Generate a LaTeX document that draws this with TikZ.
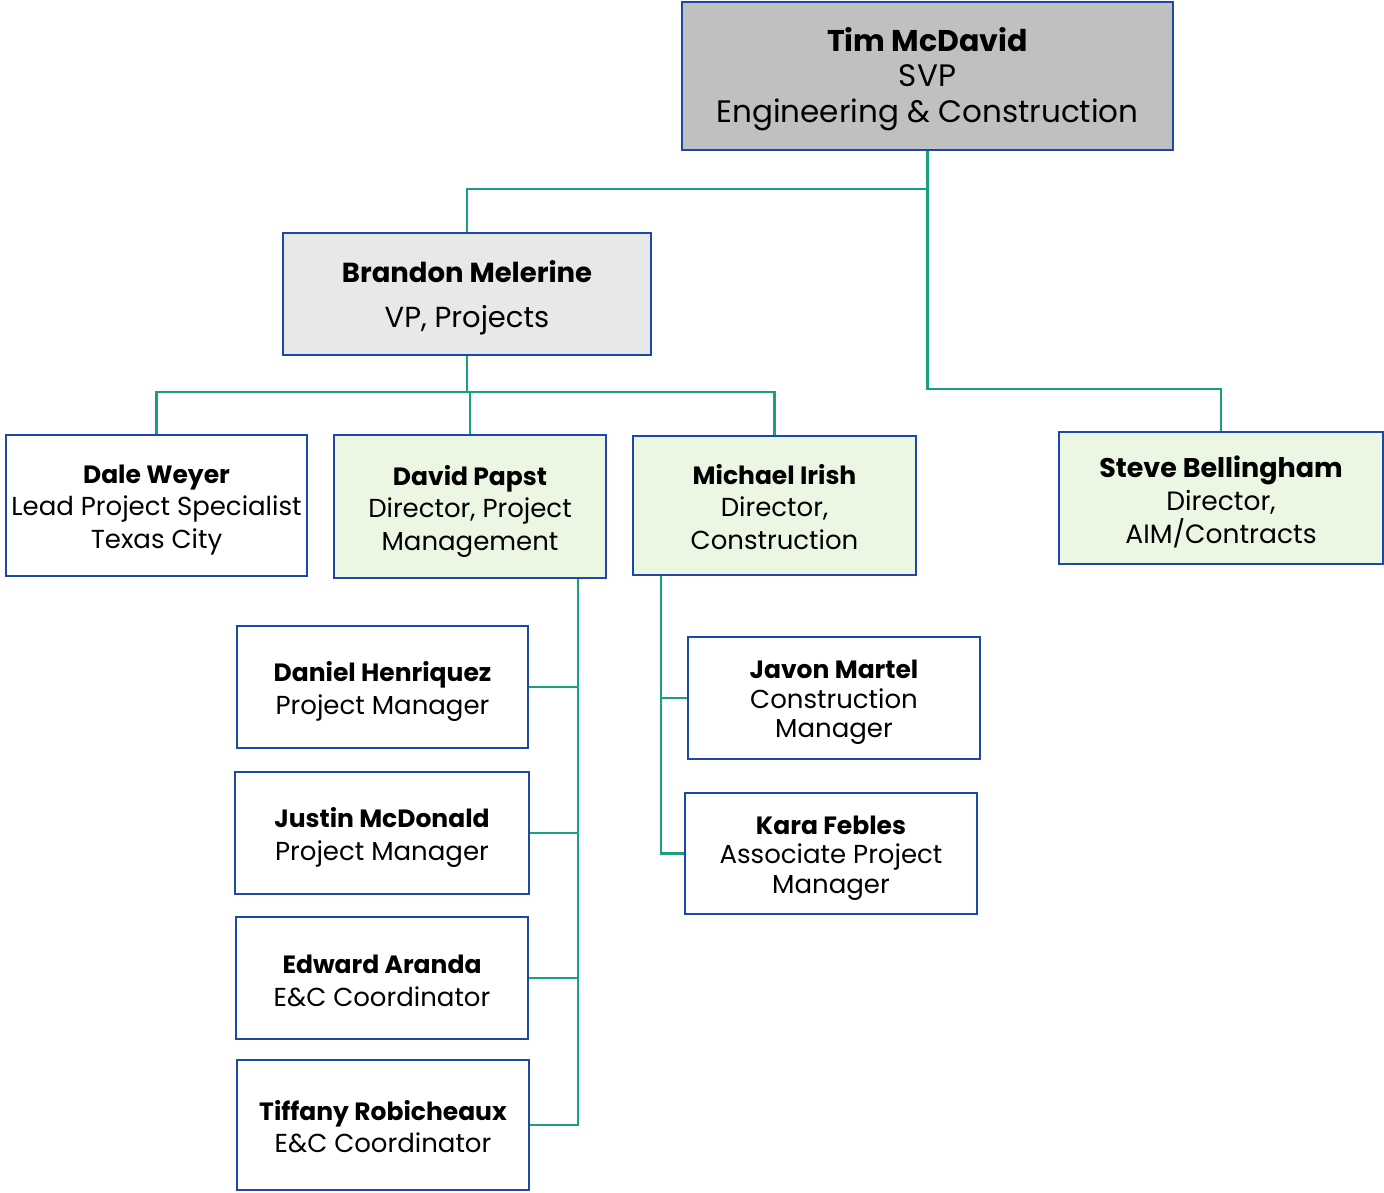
\documentclass[tikz,border=0pt]{standalone}
\usepackage{fontspec}
\setmainfont{Poppins}
\definecolor{bblue}{HTML}{1E48A6}
\definecolor{cgreen}{HTML}{1BA07F}
\definecolor{topgray}{HTML}{C0C0C0}
\definecolor{vpgray}{HTML}{E8E8E8}
\definecolor{lgreen}{HTML}{EBF6E3}
\newlength\nmup
\setlength\nmup{9pt}
\newcommand{\nm}[2][25]{\raisebox{0pt}[\dimexpr\height+\nmup\relax]{\fontsize{#1}{30}\selectfont\bfseries #2}}
\tikzset{
  box/.style={draw=bblue, line width=2.4pt, align=center, inner sep=0pt, font=\fontsize{26}{32.5}\selectfont},
  conn/.style={draw=cgreen, line width=2.4pt, line join=miter},
}
\begin{document}
\begin{tikzpicture}[x=1pt,y=-1pt]
\useasboundingbox[fill=white] (0,0) rectangle (1384,1192);
\node[box, fill=topgray, minimum width=491pt, minimum height=148pt, font=\fontsize{31}{35.5}\selectfont\setlength\nmup{6pt}] (tim) at (927.5,76) {\nm[30]{Tim McDavid}\\SVP\\Engineering \& Construction};
\node[box, fill=vpgray, minimum width=368pt, minimum height=122pt, font=\fontsize{29}{32}\selectfont\setlength\nmup{8pt}] (brandon) at (467,294) {\nm[27.5]{Brandon Melerine}\\[13pt]VP, Projects};
\node[box, minimum width=301pt, minimum height=141pt] (dale) at (156.5,505.5) {\nm{Dale Weyer}\\Lead Project Specialist\\Texas City};
\node[box, fill=lgreen, minimum width=272pt, minimum height=143pt] (david) at (470,506.5) {\nm{David Papst}\\Director, Project\\Management};
\node[box, fill=lgreen, minimum width=283pt, minimum height=139pt, font=\fontsize{26}{32.5}\selectfont\setlength\nmup{3pt}] (michael) at (774.5,505.5) {\nm{Michael Irish}\\Director,\\Construction};
\node[box, fill=lgreen, minimum width=324pt, minimum height=132pt, font=\fontsize{26.5}{33}\selectfont\setlength\nmup{7pt}] (steve) at (1221,498) {\nm[27]{Steve Bellingham}\\Director,\\AIM/Contracts};
\node[box, minimum width=291pt, minimum height=122pt] (daniel) at (382.5,687) {\nm{Daniel Henriquez}\\Project Manager};
\node[box, minimum width=294pt, minimum height=122pt] (justin) at (382,833) {\nm{Justin McDonald}\\Project Manager};
\node[box, minimum width=292pt, minimum height=122pt, font=\fontsize{26}{32.5}\selectfont\setlength\nmup{6pt}] (edward) at (382,978) {\nm{Edward Aranda}\\E\&C Coordinator};
\node[box, minimum width=292pt, minimum height=130pt, font=\fontsize{26}{32.5}\selectfont\setlength\nmup{3pt}] (tiffany) at (383,1125) {\nm{Tiffany Robicheaux}\\E\&C Coordinator};
\node[box, minimum width=292pt, minimum height=122pt, font=\fontsize{26}{29.5}\selectfont] (javon) at (834,698) {\nm{Javon Martel}\\Construction\\Manager};
\node[box, minimum width=292pt, minimum height=121pt, font=\fontsize{26}{29.5}\selectfont] (kara) at (831,853.5) {\nm{Kara Febles}\\Associate Project\\Manager};
% junction helpers
\coordinate (ty) at (0,189);
\coordinate (sy) at (0,389);
\coordinate (by) at (0,392);
\coordinate (dx) at (578,0);
\coordinate (mx) at (661,0);
\coordinate (tj) at (tim.south |- ty);
\coordinate (sj) at (tim.south |- sy);
\coordinate (bj) at (brandon.south |- by);
\coordinate (dt) at (david.south -| dx);
\coordinate (mt) at (michael.south -| mx);
% connectors
\draw[conn] (tim.south) -- (sj) -| (steve.north);
\draw[conn] (tj) -| (brandon.north);
\draw[conn] (brandon.south) -- (bj);
\draw[conn] (dale.north) |- (bj) -| (michael.north);
\draw[conn] (bj) -| (david.north);
\draw[conn] (dt) |- (daniel.east);
\draw[conn] (dt) |- (justin.east);
\draw[conn] (dt) |- (edward.east);
\draw[conn] (dt) |- (tiffany.east);
\draw[conn] (mt) |- (javon.west);
\draw[conn] (mt) |- (kara.west);
\end{tikzpicture}
\end{document}
